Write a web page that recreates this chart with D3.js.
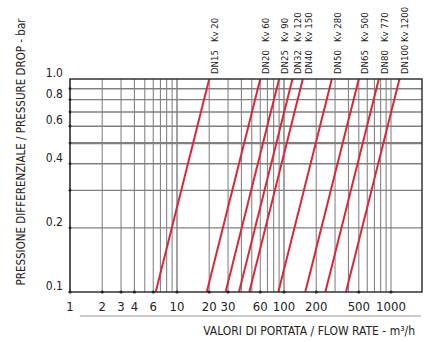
<!DOCTYPE html>
<html>
<head>
<meta charset="utf-8">
<script src="https://d3js.org/d3.v7.min.js"></script>
<style>
	body { margin: 0; background: #fff; }
	svg { background: #fff; }
	text { font-family: "Liberation Sans Narrow", "DejaVu Sans Condensed", sans-serif; fill: #222; }
	.curve { fill: none; stroke: #d8283a; stroke-width: 2; }
</style>
</head>
<body>
<svg id="chart" width="427" height="342"></svg>
<script>
// valve sizes and Kv values (flow at 1 bar)
var dnLabels = ["DN15", "DN20", "DN25", "DN32", "DN40", "DN50", "DN65", "DN80", "DN100"];
var kvValues = [20, 60, 90, 120, 150, 280, 500, 770, 1200];
var dpRange = [0.1, 1.0];

var xTicks = [1, 2, 3, 4, 6, 10, 20, 30, 60, 100, 200, 500, 1000];
var yTicks = [0.1, 0.2, 0.4, 0.6, 0.8, 1.0];
var yTickText = ["0.1", "0.2", "0.4", "0.6", "0.8", "1.0"];
var yGrid = [0.2, 0.3, 0.4, 0.5, 0.6, 0.7, 0.8, 0.9];

var svg = d3.select("#chart");

var pLeft = 70, pRight = 422, pTop = 79, pBottom = 292;

var x = d3.scaleLog().domain([1, 1000]).range([pLeft, 391]);
var y = d3.scaleLog().domain([0.1, 1]).range([pBottom, pTop]);

// vertical grid, 1..9 in each decade
var vGrid = [];
[1, 10, 100].forEach(function(d) {
	for (var k = 1; k <= 9; k++) vGrid.push(d * k);
});
vGrid.push(1000);

var grid = svg.append("g");
grid.selectAll("line.v").data(vGrid).enter().append("line")
	.attr("class", "v")
	.attr("x1", function(d) { return x(d); })
	.attr("x2", function(d) { return x(d); })
	.attr("y1", pTop).attr("y2", pBottom)
	.attr("stroke", "#858585")
	.attr("stroke-width", function(d) { return (d == 10 || d == 100) ? 1.5 : 1.1; });

grid.selectAll("path.h").data(yGrid).enter().append("path")
	.attr("class", "h")
	.attr("d", function(d) { return "M" + pLeft + "," + y(d) + "H" + pRight; })
	.attr("fill", "none")
	.attr("stroke", "#808080")
	.attr("stroke-width", function(d) { return d == 0.5 ? 2.4 : 1.3; });

// curves: dp = (Q/Kv)^2
var line = d3.line()
	.x(function(d) { return x(d.q); })
	.y(function(d) { return y(d.dp); });

svg.selectAll("path.curve").data(kvValues).enter().append("path")
	.attr("class", "curve")
	.attr("d", function(kv) {
		return line(dpRange.map(function(dp) { return {q: kv * Math.sqrt(dp), dp: dp}; }));
	});

// frame
svg.append("rect")
	.attr("x", pLeft).attr("y", pTop)
	.attr("width", pRight - pLeft).attr("height", pBottom - pTop)
	.attr("fill", "none").attr("stroke", "#333").attr("stroke-width", 1.5);

// tick dots
svg.selectAll("circle.xdot").data(xTicks).enter().append("circle")
	.attr("class", "xdot")
	.attr("cx", function(d) { return x(d); }).attr("cy", pBottom).attr("r", 1.6).attr("fill", "#222");
svg.selectAll("circle.ydot").data(yGrid).enter().append("circle")
	.attr("class", "ydot")
	.attr("cx", pLeft).attr("cy", function(d) { return y(d); }).attr("r", 1.4).attr("fill", "#222");

// x tick labels
svg.selectAll("text.xl").data(xTicks).enter().append("text")
	.attr("class", "xl")
	.attr("x", function(d) { return x(d); })
	.attr("y", 311)
	.attr("text-anchor", "middle")
	.style("font-size", "13px")
	.text(function(d) { return d; });

// y tick labels
svg.selectAll("text.yl").data(yTicks).enter().append("text")
	.attr("class", "yl")
	.attr("x", 63)
	.attr("y", function(d) { return y(d) - 2; })
	.attr("text-anchor", "end")
	.style("font-size", "12px")
	.text(function(d, i) { return yTickText[i]; });

// valve labels above the frame
var lab = svg.selectAll("g.lab").data(kvValues).enter().append("g")
	.attr("class", "lab")
	.attr("transform", function(d) { return "translate(" + (x(d) + 9) + ",0) rotate(-90)"; });
lab.append("text")
	.attr("x", -74).attr("y", 0)
	.style("font-size", "9.5px")
	.text(function(d, i) { return dnLabels[i]; });
lab.append("text")
	.attr("x", -42).attr("y", 0)
	.style("font-size", "9.5px")
	.text(function(d) { return "Kv " + d; });

// axis titles
svg.append("text")
	.attr("transform", "translate(25,152) rotate(-90)")
	.attr("text-anchor", "middle")
	.style("font-size", "11.5px")
	.text("PRESSIONE DIFFERENZIALE  /  PRESSURE DROP  -  bar");

svg.append("line")
	.attr("x1", 80).attr("x2", 421).attr("y1", 316).attr("y2", 316)
	.attr("stroke", "#999").attr("stroke-width", 1);

svg.append("text")
	.attr("x", 415).attr("y", 335)
	.attr("text-anchor", "end")
	.style("font-size", "12px")
	.text("VALORI DI PORTATA  /  FLOW RATE  -  m³/h");
</script>
</body>
</html>
